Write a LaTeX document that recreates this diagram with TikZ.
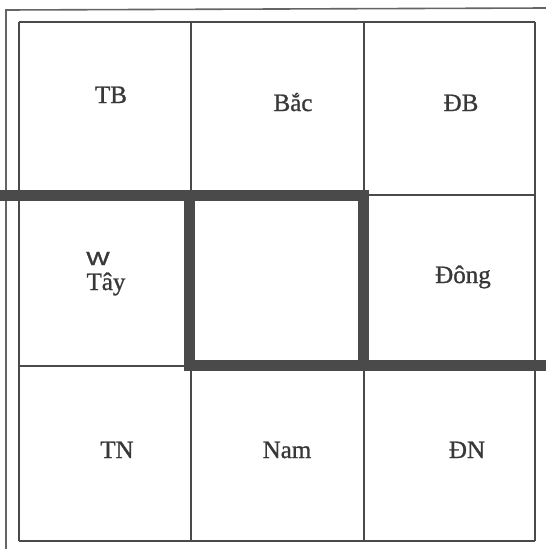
\documentclass[tikz,border=0pt]{standalone}
\usepackage{graphicx}
\usepackage{fontspec}
\setmainfont[FakeBold=1]{Liberation Serif}
\newfontfamily\wfont[FakeBold=1.5]{Liberation Sans}
\definecolor{ink}{HTML}{4A4A4A}
\definecolor{txt}{HTML}{383838}
\begin{document}
\begin{tikzpicture}[x=1pt,y=-1pt,
  thin grid/.style={draw=ink,line width=1.3pt},
  frame line/.style={draw=ink!85,line width=1.6pt},
  heavy/.style={draw=ink,line width=11pt,line join=miter,line cap=butt},
  lab/.style={anchor=base,inner sep=0pt,text=txt,font=\fontsize{25}{28}\selectfont}]
\useasboundingbox[fill=white] (0,0) rectangle (546,549);
% outer frame lines
\coordinate (ftl) at (6,10);
\coordinate (fbl) at (6,549);
\coordinate (ftr) at (546,8);
\draw[frame line] (fbl) -- (ftl) -- (ftr);
% grid
\foreach \x in {19,191,364,535} \draw[thin grid] (\x,22) -- (\x,541);
\foreach \y in {22,195,366,541} \draw[thin grid] (19,\y) -- (535,\y);
% heavy outline
\coordinate (hl) at (0,195);
\coordinate (hc1) at (189,195);
\coordinate (hc2) at (363,195);
\coordinate (hc3) at (363,365);
\coordinate (hc4) at (189,365);
\coordinate (hr) at (546,365);
\draw[heavy] (hl) -- (hc2) -- (hc3) -- (hr);
\draw[heavy] (hc1) -- (hc4) -- (hc3);
% labels
\node[lab] (tb) at (111,103) {TB};
\node[lab] (bac) at (293,111) {Bắc};
\node[lab] (db) at (461,111) {ĐB};
\node[lab,font=\wfont\fontsize{19}{21}\selectfont] (w) at (98,265) {\scalebox{1.3}[1]{W}};
\node[lab] (tay) at (106,290) {Tây};
\node[lab] (dong) at (463,283) {Đông};
\node[lab] (tn) at (117,458) {TN};
\node[lab] (nam) at (287,458) {Nam};
\node[lab] (dn) at (467,458) {ĐN};
\end{tikzpicture}
\end{document}
